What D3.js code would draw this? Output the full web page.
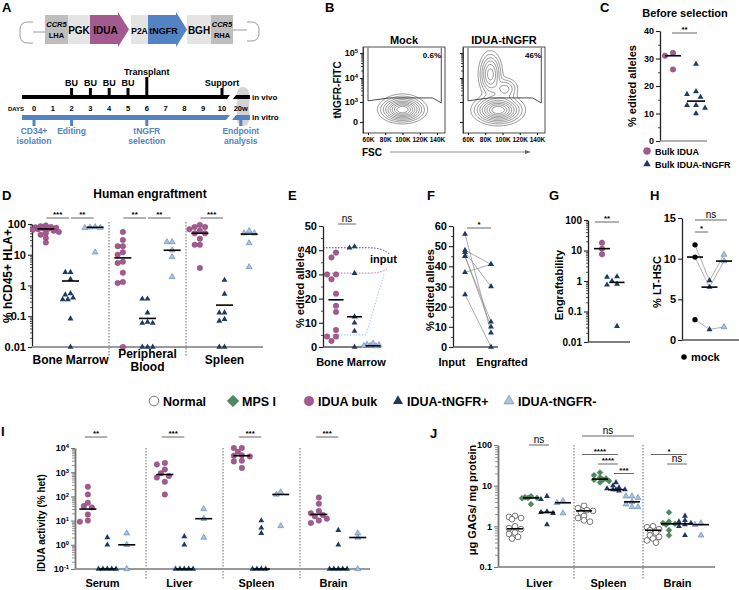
<!DOCTYPE html>
<html><head><meta charset="utf-8">
<script src="https://cdn.jsdelivr.net/npm/d3@7"></script>
<style>body{margin:0;background:#fff}svg{display:block}text{font-family:Arial,"Liberation Sans",Helvetica,sans-serif}</style>
</head><body><svg id="fig" width="739" height="590"></svg>
<script>
// ---------------- DATA ----------------
// Panel A
const constructLabels = [["CCR5","LHA"],["PGK"],["IDUA"],["P2A"],["tNGFR"],["BGH"],["CCR5","RHA"]];
const constructLengths = [23,22,39,19,39,24,22];
const constructKinds = ["arm","box","geneA","box","geneB","box","arm"];
const dayTicks = [0,1,2,3,4,5,6,7,8,9,10];
const endpointDay = 11, endpointLabel = "20w";
const buDays = [2,3,4,5];
const transplantDay = 6, supportDay = 10;
const vitroDays = [0,2,6,11];
const vitroLabels = [["CD34+","isolation"],["Editing"],["tNGFR","selection"],["Endpoint","analysis"]];
// Panel B (flow cytometry)
const flowSamples = ["Mock","IDUA-tNGFR"];
const flowPercents = ["0.6%","46%"];
const fscTicks = [60,80,100,120,140];
const fitcTicks = [0,1,2,3];            // 0, 10^3, 10^4, 10^5
const fitcTickLabels = [["0",""],["10","3"],["10","4"],["10","5"]];
// clusters: [FSC(K), FITC(transformed), sdFSC, sdFITC, weight]
const mockClusters = [[100,0.62,11,0.27,1]];
const iduaClusters = [[95,0.6,12,0.3,1],[86,2.15,6,0.4,0.5],[103,1.55,7,0.22,0.25]];
const gateFsc = [60,60,85,135,145,145];
const gateFitc = [3.22,1.05,1.17,1.17,0.95,3.22];
// Panel C
const cBulk = [32,31,26];
const cTngfr = [28,18,17,16,13,13,12,10];
const cMedians = [31,14.5];
// Panel D
const dOrgans = ["Bone Marrow","Peripheral Blood","Spleen"];
const dOrganLines = [["Bone Marrow"],["Peripheral","Blood"],["Spleen"]];
const dBulk = [[90,85,80,78,75,72,70,68,65,60,55,50,45,35,25],
               [55,30,19,19,12,10,5.9,5.4,2.6,1.3,1.2,0.01],
               [93,80,80,68,60,50,50,33,21,21,3.7]];
const dPos = [[2.7,2.7,1.6,0.55,0.5,0.4,0.35,0.35,0.083,0.01],
              [0.37,0.37,0.13,0.065,0.06,0.06,0.01,0.01,0.01],
              [1.5,0.53,0.13,0.13,0.08,0.07,0.01,0.01]];
const dNeg = [[80,78,76,75,12],[26,26,14,8.5,1.9],[60,50,50,24,4]];
const dMedians = [[69,1.4,78],[7.9,0.085,14],[50,0.23,47]];
const dSig = [[0,0,1,"***"],[0,1,2,"**"],[1,0,1,"**"],[1,1,2,"**"],[2,0,1,"***"]];
// Panel E
const eBulk = [39,37,30,30,28,22,17,14.5,7,4.3,4.3,2.5];
const ePos = [41.5,41,30.5,12.5,10,6.6,0];
const eNeg = [1.5,1,0.8,0.5,0.5,0.4];
const eMedians = [19.5,12.5,0.5];
const eInput = [30.5,41,5];
// Panel F
const fInput = [56,48,47,45,45,37,26];
const fEngrafted = [7,41,30,12.5,10,41,0];
// Panel G
const gBulk = [18,11.5,7.5];
const gPos = [1.4,1.35,1.0,0.8,0.75,0.033];
const gMedians = [11.5,0.9];
// Panel H
const hMock = [11.7,10.2,2.5];
const hPos = [7.3,6.5,1.3];
const hNeg = [10.5,9.7,1.6];
const hMedians = [10.2,6.5,9.7];
// Legend
const legendLabels = ["Normal","MPS I","IDUA bulk","IDUA-tNGFR+","IDUA-tNGFR-"];
const legendKinds = ["normal","mps","bulk","pos","neg"];
// Panel I
const iOrgans = ["Serum","Liver","Spleen","Brain"];
const iBulk = [[250,120,55,40,35,18,10,9],[2400,2100,1300,900,700,600,400,120],
               [10000,10000,7000,5000,4800,4500,3000,2800,1500],[90,50,25,20,17,15,12,10,8]];
const iPos = [[2,1,0.1,0.1,0.1,0.1,0.1],[2.2,1,0.1,0.1,0.1,0.1,0.1],[10,5,3,0.1,0.1,0.1,0.1],[4,1,0.1,0.1,0.1,0.1,0.1]];
const iNeg = [[3,1,0.1],[30,12,2],[150,120,6],[3,2,0.1]];
const iMedians = [[30,0.1,1],[800,0.1,12],[4800,0.1,120],[18,0.1,2]];
const iSig = ["**","***","***","***"];
// Panel J
const jOrgans = ["Liver","Spleen","Brain"];
const jNormal = [[1.8,1.7,1.6,1.5,1.0,0.9,0.85,0.7,0.65,0.55,0.5],[3.2,2.8,2.5,2.4,2.2,1.8,1.6,1.4,1.3],[1.0,0.95,0.85,0.8,0.7,0.6,0.55,0.5,0.45,0.4]];
const jMps = [[5.5,5.2,5,5,4.9,3.5],[21,18,16,15,14,14,13,12],[2.2,1.3,1.2,1.15,1.1,0.8,0.6]];
const jPos = [[5.5,4.6,2.3,2.2,2.1,1.1],[12,10,9,8.5,8,8,8,7.5],[1.8,1.4,1.3,1.2,1.1,1.0,0.6]];
const jNeg = [[4.2,3.8,2.1],[5.5,5.5,5,4,3.5,3,3],[1.2,1.1,0.6]];
const jMedians = [[0.87,5,2.2,3.8],[2.4,14.5,8,4],[0.8,1.15,1.15,1.1]];
const jSig = [[0,1,2,"ns",0],[1,0,3,"ns",0],[1,0,2,"****",1],[1,1,2,"****",2],[1,2,3,"***",3],[2,0,2,"*",1],[2,1,2,"ns",2]];

// ---------------- HELPERS ----------------
const C = {purple:"#a35a8f", navy:"#1f3864", light:"#a9c4e4", green:"#4b8b5b", blue:"#5383c3"};
const svg = d3.select("#fig");
svg.append("rect").attr("width",739).attr("height",590).attr("fill","#fff");
function txt(x,y,s,o={}){
  return svg.append("text").attr("x",x).attr("y",y).text(s)
    .attr("font-size",o.size||10).attr("font-weight",o.weight||"bold")
    .attr("text-anchor",o.anchor||"start").attr("fill",o.fill||"#000")
    .attr("font-style",o.style||null).attr("transform",o.rot?`rotate(-90,${x},${y})`:null);
}
function line(x1,y1,x2,y2,o={}){
  return svg.append("line").attr("x1",x1).attr("y1",y1).attr("x2",x2).attr("y2",y2)
   .attr("stroke",o.color||"#000").attr("stroke-width",o.sw||1).attr("stroke-dasharray",o.dash||null);
}
function logMinor(lo,hi){const r=[];for(let e=Math.round(Math.log10(lo));e<Math.round(Math.log10(hi));e++)for(let k=2;k<10;k++)r.push(k*Math.pow(10,e));return r;}
function yAxis(scale,x,vals,fmt,o={}){
  const col=o.color||"#222";
  const ax=svg.append("g").attr("transform",`translate(${x},0)`)
    .call(d3.axisLeft(scale).tickValues(vals).tickFormat(fmt).tickSize(o.tick||4).tickSizeOuter(0).tickPadding(2));
  ax.attr("font-family","Arial, 'Liberation Sans', sans-serif").attr("font-size",o.size||10).attr("font-weight","bold");
  ax.select(".domain").attr("stroke",col).attr("stroke-width",o.sw||1.3);
  ax.selectAll(".tick line").attr("stroke",col).attr("stroke-width",1.1);
  ax.selectAll(".tick text").attr("fill","#000");
  if(o.sup) ax.selectAll(".tick text").each(function(d,i){const t=d3.select(this);const p=o.sup(d,i);t.text(p[0]);if(p[1])t.append("tspan").attr("dy","-0.5em").attr("font-size",(o.size||10)*0.65).text(p[1]);});
  if(o.minor){const m=svg.append("g").attr("transform",`translate(${x},0)`).call(d3.axisLeft(scale).tickValues(o.minor).tickFormat("").tickSize(o.minorSize||2).tickSizeOuter(0));m.select(".domain").remove();m.selectAll("line").attr("stroke",col).attr("stroke-width",0.8);}
  return ax;
}
function swarm(vals,y,cx,step,minDist,maxSteps=6){
  const pts=vals.map(v=>({v,y:y(v),x:cx}));
  const order=pts.slice().sort((a,b)=>d3.descending(a.v,b.v));
  const placed=[];
  for(const p of order){
    let best=cx,bestD=-1;
    for(let k=0;k<=2*maxSteps;k++){
      const off=(k===0?0:Math.ceil(k/2)*(k%2?-1:1))*step;
      const x=cx+off;
      const d=placed.length?d3.min(placed,q=>Math.hypot(q.x-x,q.y-p.y)):Infinity;
      if(d>=minDist){best=x;bestD=d;break;}
      if(d>bestD){bestD=d;best=x;}
    }
    p.x=best;placed.push(p);
  }
  return pts;
}
const SHAPES={
  bulk:{type:d3.symbolCircle,size:24,fill:C.purple,stroke:"#7a3c6a",sw:0.4},
  pos:{type:d3.symbolTriangle,size:15,fill:C.navy,stroke:"none"},
  neg:{type:d3.symbolTriangle,size:15,fill:C.light,stroke:"#5d7fab",sw:0.6},
  normal:{type:d3.symbolCircle,size:26,fill:"#fff",stroke:"#555",sw:0.8},
  mps:{type:d3.symbolSquare,size:17,fill:C.green,stroke:"#2e5c39",sw:0.4,rot:45},
  mock:{type:d3.symbolCircle,size:22,fill:"#000"}
};
function marks(pts,kind,scale=1){
  const s=SHAPES[kind];
  svg.append("g").selectAll("path").data(pts).join("path")
   .attr("transform",d=>`translate(${d.x},${d.y})`+(s.rot?` rotate(${s.rot})`:""))
   .attr("d",d3.symbol(s.type,s.size*scale)())
   .attr("fill",s.fill).attr("stroke",s.stroke||"none").attr("stroke-width",s.sw||0);
}
function med(cx,y,half){line(cx-half,y,cx+half,y,{sw:1.6});}
function sig(x1,x2,y,label){
  line(x1,y,x2,y,{color:"#555",sw:0.9});
  if(label==="ns") txt((x1+x2)/2,y-2.5,label,{size:10,weight:"normal",anchor:"middle"});
  else txt((x1+x2)/2,y-1,label,{size:8,anchor:"middle"});
}

// ---------------- PANEL LABELS ----------------
[["A",2,12],["B",325,12],["C",600,12],["D",2,200],["E",288,200],["F",427,200],["G",549,200],["H",650,200],["I",1,436],["J",430,438]]
 .forEach(([l,x,y])=>txt(x,y,l,{size:13}));

// ---------------- PANEL A ----------------
(function(){
  const segX=d3.scaleLinear().domain([0,d3.sum(constructLengths)]).range([45,233]);
  let acc=0;const yT=15,yB=44,yM=29.5;
  const fontSizes={PGK:10,IDUA:10,P2A:8.5,tNGFR:9,BGH:10};
  constructLabels.forEach((lab,i)=>{
    const x0=segX(acc),x1=segX(acc+constructLengths[i]);acc+=constructLengths[i];
    const k=constructKinds[i];
    const gap=(i===3?2:0);
    if(k.startsWith("gene")){
      const hx=x1-11;
      svg.append("path").attr("d",`M${x0},${yT}H${hx}V${yT-3}L${x1},${yM}L${hx},${yB+3}V${yB}H${x0}Z`).attr("fill",k==="geneA"?C.purple:C.blue);
    } else {
      svg.append("rect").attr("x",x0+gap).attr("y",yT).attr("width",x1-x0-gap).attr("height",yB-yT).attr("fill",k==="arm"?"#bebebe":"#e4e4e4");
    }
    const mid=(x0+x1)/2-(k.startsWith("gene")?4:0)+gap/2;
    if(lab.length===2){txt(mid,27,lab[0],{size:7.5,anchor:"middle",style:"italic"});txt(mid,38,lab[1],{size:7.5,anchor:"middle"});}
    else txt(mid,33.5,lab[0],{size:fontSizes[lab[0]],anchor:"middle"});
  });
  svg.append("path").attr("d","M45,32H33M33,22H27A7,7 0 0 0 20,29V36A7,7 0 0 0 27,43H33").attr("fill","none").attr("stroke","#9a9a9a").attr("stroke-width",1);
  svg.append("path").attr("d","M233,30H247M247,22H252A7,7 0 0 1 259,29V34A7,7 0 0 1 252,41H247").attr("fill","none").attr("stroke","#9a9a9a").attr("stroke-width",1);

  const dayX=d3.scaleLinear().domain([0,10]).range([34,222]);
  svg.append("rect").attr("x",237).attr("y",87).attr("width",12).attr("height",39).attr("rx",6).attr("fill","#d3d3d3");
  svg.append("path").attr("d","M22,95H230L227,99H22Z").attr("fill","#000");
  svg.append("path").attr("d","M236,95H250V99H233Z").attr("fill","#000");
  svg.append("path").attr("d","M22,115H230L226,120H22Z").attr("fill",C.blue);
  svg.append("path").attr("d","M236,115H250V120H232Z").attr("fill",C.blue);
  buDays.forEach(d=>{svg.append("rect").attr("x",dayX(d)-1.5).attr("y",88).attr("width",3).attr("height",7);txt(dayX(d),86,"BU",{size:9,anchor:"middle"});});
  svg.append("rect").attr("x",dayX(transplantDay)-1.5).attr("y",77).attr("width",3).attr("height",18);
  txt(dayX(transplantDay),75,"Transplant",{size:9,anchor:"middle"});
  svg.append("rect").attr("x",dayX(supportDay)-1.5).attr("y",88).attr("width",3).attr("height",7);
  txt(dayX(supportDay),86,"Support",{size:9,anchor:"middle"});
  txt(8,111,"DAYS",{size:6});
  dayTicks.forEach(d=>txt(dayX(d),111,String(d),{size:7.5,anchor:"middle"}));
  txt(dayX(endpointDay),111,endpointLabel,{size:7.5,anchor:"middle"});
  txt(252,100,"in vivo",{size:8});
  txt(252,120,"in vitro",{size:8});
  vitroDays.forEach((d,i)=>{
    svg.append("rect").attr("x",dayX(d)-1.5).attr("y",120).attr("width",3).attr("height",6).attr("fill",C.blue);
    vitroLabels[i].forEach((s,j)=>txt(dayX(d),134+j*10,s,{size:8.5,anchor:"middle",fill:C.blue}));
  });
})();

// ---------------- PANEL B ----------------
(function(){
  const boxX=[363,463], top=47, w=82, h=86;
  const fy=d3.scaleLinear().domain([-0.55,0,1,2,3,3.25]).range([133,122,102,78,53,47]);
  const fx=d3.scaleLinear().domain([54.2,149.3]).range([0,w]);
  [mockClusters,iduaClusters].forEach((cl,s)=>{
    const bx=boxX[s];
    const vals=new Float64Array(w*h);
    for(let j=0;j<h;j++)for(let i=0;i<w;i++){
      const f=fx.invert(i+0.5),t=fy.invert(top+j+0.5);
      let v=0;cl.forEach(c=>{v+=c[4]*Math.exp(-0.5*((f-c[0])/c[2])**2-0.5*((t-c[1])/c[3])**2);});
      vals[j*w+i]=v;
    }
    const mx=d3.max(vals);
    const th=[0.03,0.07,0.13,0.21,0.31,0.43,0.56,0.7,0.84].map(p=>p*mx);
    const cs=d3.contours().size([w,h]).thresholds(th)(vals);
    svg.append("g").attr("transform",`translate(${bx},${top})`).selectAll("path").data(cs).join("path")
      .attr("d",d3.geoPath()).attr("fill","none").attr("stroke","#4a4a4a").attr("stroke-width",0.6);
    const gl=d3.line().x((d,i)=>bx+fx(gateFsc[i])).y((d,i)=>fy(gateFitc[i]));
    svg.append("path").attr("d",gl(gateFsc)).attr("fill","none").attr("stroke","#222").attr("stroke-width",0.8);
    svg.append("rect").attr("x",bx).attr("y",top).attr("width",w).attr("height",h).attr("fill","none").attr("stroke","#222").attr("stroke-width",0.8);
    yAxis(fy,bx,fitcTicks,s===0?(d=>d):"",{size:9,tick:3,sw:0.8,sup:s===0?((d,i)=>fitcTickLabels[i]):null,minor:[1.3,1.48,1.6,1.7,1.78,1.85,1.9,1.95,2.3,2.48,2.6,2.7,2.78,2.85,2.9,2.95]});
    const xa=svg.append("g").attr("transform",`translate(${bx},${top+h})`).call(d3.axisBottom(fx).tickValues(fscTicks).tickFormat(d=>d+"K").tickSize(2).tickSizeOuter(0).tickPadding(2));
    xa.attr("font-size",6.5).attr("font-weight","bold").attr("font-family","Arial, 'Liberation Sans', sans-serif");
    xa.select(".domain").remove();
    txt(bx+w/2,44,flowSamples[s],{size:11,anchor:"middle"});
    txt(bx+w-4,58,flowPercents[s],{size:8,anchor:"end"});
  });
  txt(341,90,"tNGFR-FITC",{size:10,anchor:"middle",rot:true});
  txt(362,156,"FSC",{size:10});
  line(390,152,528,152,{color:"#666",sw:0.7});
  svg.append("path").attr("d","M531,152L525,150L525,154Z").attr("fill","#666");
})();

// ---------------- PANEL C ----------------
(function(){
  const y=d3.scaleLinear().domain([0,40]).range([141,31]);
  yAxis(y,660,[0,10,20,30,40],d=>d,{size:9,minor:[5,15,25,35]});
  line(660,141,707,141,{color:"#999",sw:1.5});
  const xs=d3.scalePoint().domain(["bulk","pos"]).range([673,696]);
  marks(swarm(cBulk,y,xs("bulk"),4,5),"bulk");
  marks(swarm(cTngfr,y,xs("pos"),4.5,5.5),"pos");
  med(xs("bulk"),y(cMedians[0]),8);
  med(xs("pos"),y(cMedians[1]),9);
  sig(672,697,33,"**");
  txt(685,17,"Before selection",{size:11,anchor:"middle"});
  txt(636,86,"% edited alleles",{size:11,anchor:"middle",rot:true});
  marks([{x:647,y:151}],"bulk",1.6);
  txt(655,154.5,"Bulk IDUA",{size:9});
  marks([{x:647,y:164}],"pos",1.6);
  txt(655,167.5,"Bulk IDUA-tNGFR",{size:9});
})();

// ---------------- PANEL D ----------------
(function(){
  const y=d3.scaleLog().domain([0.01,100]).range([347,224]);
  const band=d3.scaleBand().domain(dOrgans).range([32,263]);
  const bw=band.bandwidth();
  const grp=d3.scalePoint().domain(["bulk","pos","neg"]).range([0.18*bw,0.82*bw]);
  band.domain().slice(0,2).forEach(o=>line(band(o)+bw,222,band(o)+bw,356,{color:"#444",sw:0.8,dash:"1.5,1.5"}));
  yAxis(y,32,[0.01,0.1,1,10,100],d=>String(d),{size:11,minor:logMinor(0.01,100)});
  line(32,347,263,347,{color:"#9a9a9a",sw:2});
  dOrgans.forEach((o,i)=>{
    const sets=[dBulk[i],dPos[i],dNeg[i]];
    ["bulk","pos","neg"].forEach((k,j)=>{
      const cx=band(o)+grp(k);
      marks(swarm(sets[j],y,cx,2.6,4.3,5),k);
    });
    ["bulk","pos","neg"].forEach((k,j)=>med(band(o)+grp(k),y(dMedians[i][j]),8.5));
    dOrganLines[i].forEach((s,j)=>txt(band(o)+bw/2,(dOrganLines[i].length>1?358:364)+j*13,s,{size:12,anchor:"middle"}));
  });
  const keys=["bulk","pos","neg"];
  dSig.forEach(([oi,a,b,l])=>{const o=dOrgans[oi];sig(band(o)+grp(keys[a])+0.5,band(o)+grp(keys[b])-1.5,218,l);});
  txt(150,198,"Human engraftment",{size:12,anchor:"middle"});
  txt(12,276,"% hCD45+ HLA+",{size:12,anchor:"middle",rot:true});
})();

// ---------------- PANEL E ----------------
(function(){
  const y=d3.scaleLinear().domain([0,50]).range([347,226]);
  const xs=d3.scalePoint().domain(["bulk","pos","neg"]).range([336,373]);
  const yb=y(eInput[1]),yp=y(eInput[0]),yl=y(eInput[2]);
  svg.append("path").attr("d",`M323,${yb}H368Q384,${yb} 390,${yb+7}`).attr("fill","none").attr("stroke",C.navy).attr("stroke-width",0.9).attr("stroke-dasharray","1.5,1.5");
  svg.append("path").attr("d",`M323,${yp}H368Q382,${yp} 388,${yp-5}`).attr("fill","none").attr("stroke","#c0609a").attr("stroke-width",0.9).attr("stroke-dasharray","1.5,1.5");
  svg.append("path").attr("d",`M323,${yl}H366L384,${yp+1}`).attr("fill","none").attr("stroke","#9fbde0").attr("stroke-width",0.9).attr("stroke-dasharray","1.5,1.5");
  txt(370,263,"input",{size:11});
  yAxis(y,323,[0,10,20,30,40,50],d=>d,{size:11,minor:[5,15,25,35,45]});
  line(323,347,381,347,{color:"#555",sw:1.3});
  marks(swarm(eBulk,y,xs("bulk"),4.5,5,3),"bulk");
  marks(swarm(ePos,y,xs("pos"),5,5,3),"pos");
  marks(swarm(eNeg,y,xs("neg"),3,4,3),"neg");
  ["bulk","pos","neg"].forEach((k,j)=>med(xs(k),y(eMedians[j]),7.5));
  sig(338,356,224,"ns");
  txt(351,366,"Bone Marrow",{size:11,anchor:"middle"});
  txt(304,287,"% edited alleles",{size:11,anchor:"middle",rot:true});
})();

// ---------------- PANEL F ----------------
(function(){
  const y=d3.scaleLinear().domain([0,60]).range([347,226]);
  const xs=d3.scalePoint().domain(["Input","Engrafted"]).range([465,491]);
  yAxis(y,453,[0,10,20,30,40,50,60],d=>d,{size:11,minor:[5,15,25,35,45,55]});
  line(453,347,498,347,{color:"#555",sw:1.3});
  fInput.forEach((v,i)=>line(xs("Input"),y(v),xs("Engrafted"),y(fEngrafted[i]),{color:"#888",sw:0.7}));
  marks(fInput.map(v=>({x:xs("Input"),y:y(v)})),"pos");
  marks(fEngrafted.map(v=>({x:xs("Engrafted"),y:y(v)})),"pos");
  sig(467,491,228,"*");
  txt(452,366,"Input",{size:11,anchor:"middle"});
  txt(502,366,"Engrafted",{size:11,anchor:"middle"});
  txt(434,290,"% edited alleles",{size:11,anchor:"middle",rot:true});
})();

// ---------------- PANEL G ----------------
(function(){
  const y=d3.scaleLog().domain([0.01,100]).range([342,220]);
  const xs=d3.scalePoint().domain(["bulk","pos"]).range([602,617]);
  yAxis(y,588,[0.01,0.1,1,10,100],d=>String(d),{size:10,minor:logMinor(0.01,100)});
  line(588,342,630,342,{color:"#555",sw:1.3});
  marks(swarm(gBulk,y,xs("bulk"),4,5,3),"bulk");
  marks(swarm(gPos,y,xs("pos"),5,5.5,3),"pos");
  med(xs("bulk"),y(gMedians[0]),8);
  med(xs("pos"),y(gMedians[1]),7.5);
  sig(595,619,222,"**");
  txt(563,285,"Engraftability",{size:11,anchor:"middle",rot:true});
})();

// ---------------- PANEL H ----------------
(function(){
  const y=d3.scaleLinear().domain([0,15]).range([340,218]);
  const xs=d3.scalePoint().domain(["mock","pos","neg"]).range([695,724]);
  yAxis(y,682,[0,5,10,15],d=>d,{size:11});
  line(682,340,739,340,{color:"#555",sw:1.3});
  hMock.forEach((v,i)=>svg.append("path").attr("d",d3.line()([[xs("mock"),y(v)],[xs("pos"),y(hPos[i])],[xs("neg"),y(hNeg[i])]])).attr("fill","none").attr("stroke","#999").attr("stroke-width",0.8));
  marks(hMock.map(v=>({x:xs("mock"),y:y(v)})),"mock");
  marks(hPos.map(v=>({x:xs("pos"),y:y(v)})),"pos");
  marks(hNeg.map(v=>({x:xs("neg"),y:y(v)})),"neg");
  ["mock","pos","neg"].forEach((k,j)=>med(xs(k),y(hMedians[j]),8));
  sig(695,727,220,"ns");
  sig(695,708,232,"*");
  txt(661,282,"% LT-HSC",{size:11,anchor:"middle",rot:true});
  marks([{x:684,y:357}],"mock",1.1);
  txt(691,361,"mock",{size:11});
})();

// ---------------- LEGEND ----------------
(function(){
  const xs=[154,233,309,398,509];
  const sc={normal:2.8,mps:4,bulk:3,pos:2.9,neg:2.9};
  legendLabels.forEach((l,i)=>{
    marks([{x:xs[i],y:401}],legendKinds[i],sc[legendKinds[i]]);
    txt(xs[i]+9,405.5,l,{size:12.5});
  });
})();

// ---------------- PANEL I ----------------
(function(){
  const y=d3.scaleLog().domain([0.1,10000]).range([569,448]);
  const band=d3.scaleBand().domain(iOrgans).range([69,377]);
  const bw=band.bandwidth();
  const grp=d3.scalePoint().domain(["bulk","pos","neg"]).range([0.245*bw,0.75*bw]);
  iOrgans.slice(0,3).forEach(o=>line(band(o)+bw,448,band(o)+bw,580,{color:"#444",sw:0.8,dash:"1.5,1.5"}));
  yAxis(y,75,[0.1,1,10,100,1000,10000],d=>d,{size:9,color:"#777",sw:1.8,sup:d=>["10",String(Math.round(Math.log10(d)))],minor:logMinor(0.1,10000),minorSize:3});
  line(75,569,370,569,{color:"#9a9a9a",sw:2});
  iOrgans.forEach((o,i)=>{
    const sets=[iBulk[i],iPos[i],iNeg[i]];
    ["bulk","pos","neg"].forEach((k,j)=>marks(swarm(sets[j],y,band(o)+grp(k),k==="bulk"?4:2.2,k==="bulk"?5:3.6,k==="bulk"?3:5),k));
    ["bulk","pos","neg"].forEach((k,j)=>med(band(o)+grp(k),y(iMedians[i][j]),8.5));
    sig(band(o)+grp("bulk")-3,band(o)+grp("pos"),437,iSig[i]);
    txt(band(o)+bw/2-5,587,o,{size:11,anchor:"middle"});
  });
  txt(45,523,"IDUA activity (% het)",{size:10,anchor:"middle",rot:true});
})();

// ---------------- PANEL J ----------------
(function(){
  const y=d3.scaleLog().domain([0.1,100]).range([567,445]);
  const band=d3.scaleBand().domain(jOrgans).range([505,712]);
  const bw=band.bandwidth();
  const keys=["normal","mps","pos","neg"];
  const grp=d3.scalePoint().domain(keys).range([0.145*bw,0.84*bw]);
  jOrgans.slice(0,2).forEach(o=>line(band(o)+bw,445,band(o)+bw,580,{color:"#444",sw:0.8,dash:"1.5,1.5"}));
  yAxis(y,498,[0.1,1,10,100],d=>String(d),{size:9,color:"#777",sw:1.8,minor:logMinor(0.1,100),minorSize:3});
  line(498,567,715,567,{color:"#9a9a9a",sw:2});
  jOrgans.forEach((o,i)=>{
    const sets=[jNormal[i],jMps[i],jPos[i],jNeg[i]];
    keys.forEach((k,j)=>marks(swarm(sets[j],y,band(o)+grp(k),3,4.4,3),k));
    keys.forEach((k,j)=>med(band(o)+grp(k),y(jMedians[i][j]),8));
    txt(band(o)+bw/2,587,o,{size:11,anchor:"middle"});
  });
  jSig.forEach(([oi,a,b,l,lvl])=>{const o=jOrgans[oi];sig(band(o)+grp(keys[a])-2,band(o)+grp(keys[b])+2,lvl===0&&oi===1?436:445+lvl*9.5,l);});
  txt(476,500,"μg GAGs/ mg protein",{size:11,anchor:"middle",rot:true});
})();
</script></body></html>
